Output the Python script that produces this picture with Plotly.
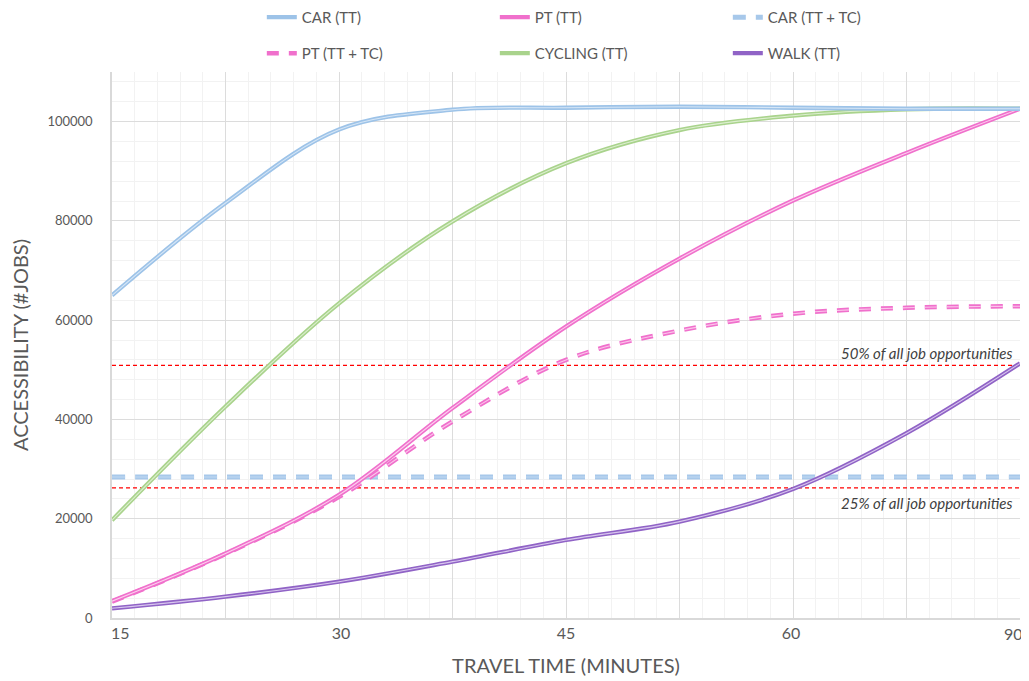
import plotly.graph_objects as go

# ---------------- data ----------------
# category positions of the travel-time axis (labels shown on every other one)
POS = [0, 1, 2, 3, 4, 5, 6, 7, 8]
TICK_TEXT = ["\u00a0\u00a0\u00a0\u00a015", "", "\u00a030", "", "45", "", "60\u00a0", "", ""]
LAST_TICK = "90"

CAR_TT = [65000, 83600, 98400, 102400, 102800, 103000, 102800, 102600, 102600]
PT_TT = [3400, 13000, 24800, 42300, 58700, 72400, 84100, 93700, 102600]
CAR_TTTC = [28400, 28400, 28400, 28400, 28400, 28400, 28400, 28400, 28400]
PT_TTTC = [3300, 12900, 24400, 39600, 52000, 57900, 61300, 62500, 62800]
CYCLING_TT = [19700, 42600, 63400, 79900, 91600, 98300, 101200, 102500, 102600]
WALK_TT = [1950, 4300, 7320, 11350, 15720, 19420, 26000, 37240, 51300]

HALF_JOBS = 50900
QUARTER_JOBS = 26200
REF_LABELS = ["50% of all job opportunities", "25% of all job opportunities"]

FONT = "Lato"
GRAY = "#595959"

fig = go.Figure()

# reference lines (red dashed)
for val in (HALF_JOBS, QUARTER_JOBS):
    fig.add_trace(go.Scatter(x=[POS[0], POS[-1]], y=[val, val], mode="lines",
                             line=dict(color="#FF0000", width=1.2, dash="4px,3px"),
                             showlegend=False, hoverinfo="skip"))


def double_line(name, y, color, inner, dash=None, width=4, legend="legend"):
    fig.add_trace(go.Scatter(x=POS, y=y, name=name, mode="lines",
                             line=dict(color=color, width=width, shape="spline",
                                       dash=dash),
                             legend=legend))
    fig.add_trace(go.Scatter(x=POS, y=y, mode="lines", showlegend=False,
                             hoverinfo="skip",
                             line=dict(color=inner, width=1.1, shape="spline",
                                       dash=dash)))


double_line("CAR (TT + TC)", CAR_TTTC, "#A7C8EA", "#C3DAF2", dash="13px,10px",
            width=5, legend="legend")
double_line("WALK (TT)", WALK_TT, "#9063C6", "#D8C6EE", width=4.3, legend="legend2")
double_line("CYCLING (TT)", CYCLING_TT, "#A9D38C", "#DDEFD0", width=4.3, legend="legend2")
double_line("PT (TT + TC)", PT_TTTC, "#F070CC", "#FBC4EA", dash="12px,10px",
            width=4.5, legend="legend2")
double_line("PT (TT)", PT_TT, "#F070CC", "#FCD0EE", width=4.3, legend="legend")
double_line("CAR (TT)", CAR_TT, "#9DC3E8", "#D6E6F6", width=4.3, legend="legend")

rank = {"CAR (TT)": 1, "PT (TT)": 2, "CAR (TT + TC)": 3,
        "PT (TT + TC)": 4, "CYCLING (TT)": 5, "WALK (TT)": 6}
for tr in fig.data:
    if tr.name in rank:
        tr.legendrank = rank[tr.name]

fig.add_annotation(x=POS[-1], y=HALF_JOBS, xref="x", yref="y", text=REF_LABELS[0],
                   showarrow=False, xanchor="right", yanchor="bottom", xshift=-6,
                   yshift=1, font=dict(family=FONT, size=15, color="#404040", style="italic"))
fig.add_annotation(x=POS[-1], y=QUARTER_JOBS, xref="x", yref="y", text=REF_LABELS[1],
                   showarrow=False, xanchor="right", yanchor="top", xshift=-6,
                   yshift=-4, font=dict(family=FONT, size=15, color="#404040", style="italic"))
# last category label, kept inside the page edge
fig.add_annotation(x=POS[-1], y=0, xref="x", yref="paper", text=LAST_TICK,
                   showarrow=False, xanchor="right", yanchor="top", xshift=5, yshift=-4,
                   font=dict(family=FONT, size=16, color=GRAY))

legend_common = dict(orientation="h", xanchor="left", yanchor="middle",
                     entrywidth=188, entrywidthmode="pixels",
                     font=dict(family=FONT, size=15, color=GRAY),
                     bgcolor="rgba(0,0,0,0)", traceorder="normal")

# the page adds an 8px body margin, so the figure is 8px smaller than the window
fig.update_layout(
    width=1021, height=673,
    margin=dict(l=104, r=9, t=64, b=63, autoexpand=False),
    paper_bgcolor="white", plot_bgcolor="white",
    font=dict(family=FONT, color=GRAY),
    legend=dict(x=0.165, y=1.1, **legend_common),
    legend2=dict(x=0.165, y=1.034, **legend_common),
    xaxis=dict(range=[POS[0], POS[-1]], tickmode="array", tickvals=POS,
               ticktext=TICK_TEXT, showgrid=True, gridcolor="#DCDCDC", gridwidth=1.3,
               minor=dict(tick0=0, dtick=0.2, showgrid=True, gridcolor="#F2F2F2",
                          gridwidth=1),
               zeroline=False, showline=True, linecolor="#D9D9D9", linewidth=1.5,
               ticks="", ticklabeloverflow="allow",
               tickfont=dict(family=FONT, size=16, color=GRAY),
               title=dict(text="TRAVEL TIME (MINUTES)", standoff=18,
                          font=dict(family=FONT, size=20, color=GRAY))),
    yaxis=dict(range=[0, 110000], dtick=20000, tickformat="d", showgrid=True,
               gridcolor="#DCDCDC", gridwidth=1.3,
               minor=dict(dtick=4000, showgrid=True, gridcolor="#F2F2F2", gridwidth=1),
               zeroline=False, showline=True, linecolor="#D9D9D9", linewidth=1.5,
               ticks="", ticklabelstandoff=15,
               tickfont=dict(family=FONT, size=13, color=GRAY),
               title=dict(text="ACCESSIBILITY (#JOBS)", standoff=14,
                          font=dict(family=FONT, size=20, color=GRAY))),
)

fig.write_html("out.html")
